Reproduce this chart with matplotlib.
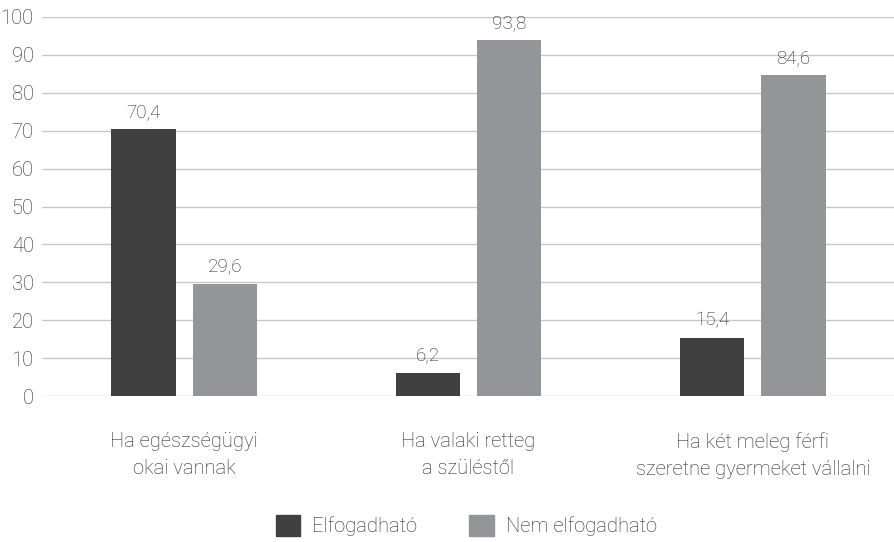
import matplotlib.pyplot as plt
import numpy as np
from matplotlib.patches import Patch

categories = ["Ha egészségügyi\nokai vannak",
              "Ha valaki retteg\na szüléstől",
              "Ha két meleg férfi\nszeretne gyermeket vállalni"]
elfogadhato = [70.4, 6.2, 15.4]
nem_elfogadhato = [29.6, 93.8, 84.6]
series_names = ["Elfogadható", "Nem elfogadható"]

dark = "#404040"
light = "#939598"
txt = "#262626"

plt.rcParams['font.family'] = ['Roboto', 'DejaVu Sans']
plt.rcParams['font.weight'] = 'light'

fig = plt.figure(figsize=(8.95, 5.42), dpi=100)
ax = fig.add_axes([0.047, 0.269, 0.953, 0.700])

x = np.arange(len(categories))
w = 0.227
off = 0.143
b1 = ax.bar(x - off, elfogadhato, w, color=dark, zorder=3)
b2 = ax.bar(x + off, nem_elfogadhato, w, color=light, zorder=3)

# value labels with decimal comma
for bars, vals in [(b1, elfogadhato), (b2, nem_elfogadhato)]:
    for r, v in zip(bars, vals):
        ax.text(r.get_x() + r.get_width() / 2, v + 2.2, f"{v:.1f}".replace(".", ","),
                ha="center", va="bottom", fontsize=13.5, color=txt, fontweight="light")

ax.set_xlim(-0.5, 2.5)
ax.set_ylim(0, 100)
ax.set_yticks(range(0, 101, 10))
ax.yaxis.grid(True, color="#c8c8c8", linewidth=1, zorder=0)
ax.set_axisbelow(True)
for s in ax.spines.values():
    s.set_visible(False)
ax.tick_params(axis="both", length=0, labelsize=14.5, colors=txt)
ax.tick_params(axis="y", pad=6)
ax.tick_params(axis="x", pad=26)
ax.set_xticks(x)
ax.set_xticklabels(categories, linespacing=1.5)
for lbl in ax.get_xticklabels() + ax.get_yticklabels():
    lbl.set_fontweight("light")

handles = [Patch(color=dark), Patch(color=light)]
fig.legend(handles, series_names, loc="center", bbox_to_anchor=(0.521, 0.03), ncol=2,
           frameon=False, prop={"size": 14.5, "weight": "light"}, handlelength=1.2,
           handleheight=1.2, columnspacing=2.6, handletextpad=0.6, labelcolor=txt)

fig.savefig("out.png", dpi=100)
